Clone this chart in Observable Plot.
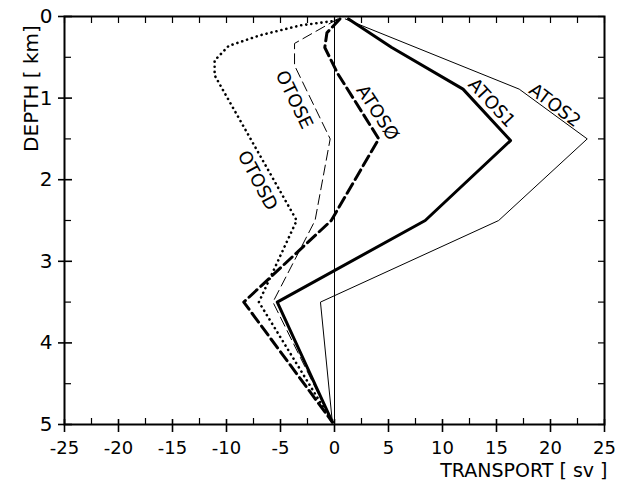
<!DOCTYPE html>
<html><head><meta charset="utf-8">
<script src="https://cdn.jsdelivr.net/npm/d3@7"></script>
<script src="https://cdn.jsdelivr.net/npm/@observablehq/plot@0.6"></script>
<style>body{margin:0;background:#fff}</style>
</head><body><div id="chart"></div>
<script>
// ---- data ----
const seriesNames = ["ATOS2", "ATOS1", "ATOSØ", "OTOSE", "OTOSD"];
const atos2Transport = [1.0, 17.1, 23.4, 15.2, -1.3, -0.2];
const atos2Depth     = [0.03, 0.89, 1.5, 2.5, 3.5, 4.97];
const atos1Transport = [1.3, 5.3, 11.9, 16.3, 8.4, -5.3, -0.2];
const atos1Depth     = [0.03, 0.38, 0.89, 1.52, 2.5, 3.5, 4.97];
const atos0Transport = [0.5, -0.7, -0.9, 0.3, 4.1, -0.3, -8.4, -0.2];
const atos0Depth     = [0.03, 0.2, 0.38, 0.7, 1.5, 2.5, 3.5, 4.97];
const otoseTransport = [0.3, -3.7, -3.7, -0.4, -1.8, -5.7, -0.2];
const otoseDepth     = [0.03, 0.33, 0.6, 1.5, 2.5, 3.5, 4.97];
const otosdTransport = [0.2, -3.2, -6.9, -9.8, -11.1, -11.1, -3.5, -7.0, -0.2];
const otosdDepth     = [0.05, 0.11, 0.23, 0.36, 0.54, 0.72, 2.5, 3.5, 4.97];

// curve label anchors (data units) and their rotation along the curve
const labelTransport = [20.4, 14.55, 3.98, -3.75, -7.13];
const labelDepth     = [1.09, 1.06, 1.18, 1.02, 2.01];
const labelAngle     = [37, 47, 57, 64, 62];

const xTickLabels = [-25, -20, -15, -10, -5, 0, 5, 10, 15, 20, 25];
const xMinorTicks = [-22.5, -17.5, -12.5, -7.5, -2.5, 2.5, 7.5, 12.5, 17.5, 22.5];
const yTickLabels = [0, 1, 2, 3, 4, 5];
const yMinorTicks = [0.5, 1.5, 2.5, 3.5, 4.5];

// ---- build tables ----
const seriesX = [atos2Transport, atos1Transport, atos0Transport, otoseTransport, otosdTransport];
const seriesY = [atos2Depth, atos1Depth, atos0Depth, otoseDepth, otosdDepth];
const table = seriesNames.flatMap((s, i) => seriesX[i].map((t, j) => ({s, t, d: seriesY[i][j]})));
const labels = seriesNames.map((s, i) => ({s, t: labelTransport[i], d: labelDepth[i], a: labelAngle[i]}));

const styles = {
  "ATOS2": {strokeWidth: 1},
  "ATOS1": {strokeWidth: 3},
  "ATOSØ": {strokeWidth: 3, strokeDasharray: "11,5"},
  "OTOSE": {strokeWidth: 1, strokeDasharray: "10,5"},
  "OTOSD": {strokeWidth: 2.6, strokeDasharray: "0.1,5", strokeLinecap: "round"}
};

const W = 629, H = 485, mL = 64, mR = 25, mT = 16, mB = 61;
const iW = W - mL - mR, iH = H - mT - mB;
const font = "DejaVu Sans";

const chart = Plot.plot({
  width: W, height: H,
  marginLeft: mL, marginRight: mR, marginTop: mT, marginBottom: mB,
  style: {fontFamily: font, fontSize: "20px", background: "white", color: "black", overflow: "visible"},
  x: {domain: [-25, 25]},
  y: {domain: [0, 5], reverse: true},
  marks: [
    Plot.ruleX([0], {stroke: "black", strokeWidth: 1}),
    ...seriesNames.map(s => Plot.line(table.filter(r => r.s === s), {
      x: "t", y: "d", stroke: "black", strokeLinejoin: "round", ...styles[s]
    })),
    Plot.text(labels, {x: "t", y: "d", text: "s", rotate: "a", fontSize: 18, fill: "black", fontFamily: font}),
    Plot.frame({stroke: "black", strokeWidth: 2}),
    // top ticks (inward)
    Plot.tickX([...xMinorTicks, ...xTickLabels], {x: d => d, insetBottom: iH - 7, stroke: "black", strokeWidth: 1.2}),
    // bottom ticks
    Plot.tickX(xMinorTicks, {x: d => d, insetTop: iH - 6, stroke: "black", strokeWidth: 1.2}),
    Plot.tickX(xTickLabels, {x: d => d, insetTop: iH - 5, insetBottom: -8, stroke: "black", strokeWidth: 1.6}),
    // left ticks
    Plot.tickY(yTickLabels, {y: d => d, insetLeft: -6, insetRight: iW - 8, stroke: "black", strokeWidth: 1.6}),
    Plot.tickY(yMinorTicks, {y: d => d, insetRight: iW - 7, stroke: "black", strokeWidth: 1.2}),
    // right ticks (inward)
    Plot.tickY([...yMinorTicks, ...yTickLabels], {y: d => d, insetLeft: iW - 6, stroke: "black", strokeWidth: 1.2}),
    Plot.axisX({ticks: xTickLabels, tickSize: 0, tickPadding: 17, tickFormat: d => String(d), label: null, anchor: "bottom", fontSize: 18}),
    Plot.axisY({ticks: yTickLabels, tickSize: 0, tickPadding: 12, tickFormat: d => String(d), label: null, anchor: "left", fontSize: 20}),
    Plot.text(["TRANSPORT [ sv ]"], {frameAnchor: "bottom-right", textAnchor: "end", dx: 3, dy: 52, fontSize: 19, fill: "black"}),
    Plot.text(["DEPTH [ km]"], {frameAnchor: "top-left", textAnchor: "middle", rotate: -90, dx: -41, dy: 72, fontSize: 20, fill: "black"})
  ]
});
document.getElementById("chart").appendChild(chart);
</script>
</body></html>
